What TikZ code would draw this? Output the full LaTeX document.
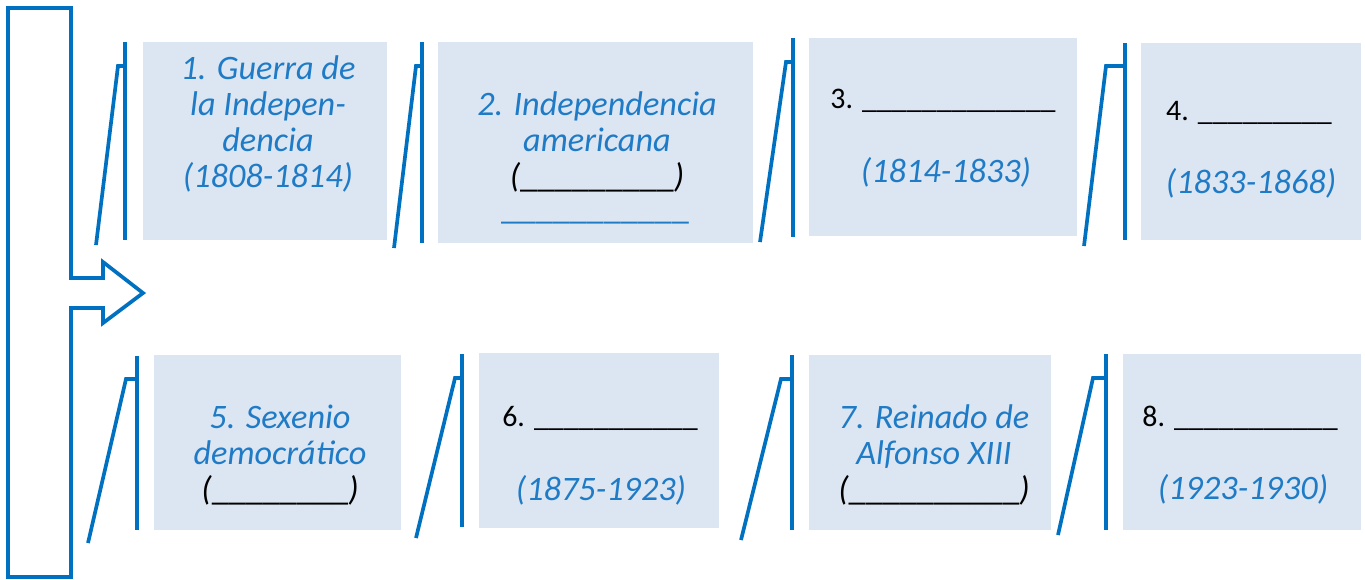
\documentclass[tikz,border=0pt]{standalone}
\usepackage{fontspec}
\setmainfont{Carlito}
\usetikzlibrary{positioning}
\definecolor{frameBlue}{HTML}{0070C0}
\definecolor{boxFill}{HTML}{DCE6F2}
\definecolor{textBlue}{HTML}{1F7BC6}
\newcommand{\gap}[1]{{\upshape\foreach \k in {1,...,#1}{\_}}}

\begin{document}
\begin{tikzpicture}[x=0.02cm,y=-0.02cm,
  period/.style={fill=boxFill,inner sep=0pt,anchor=north west},
  post/.style={frameBlue,line width=2.1pt},
  hand/.style={textBlue,font=\fontsize{19.5}{20.4}\selectfont\itshape,align=center,inner sep=0pt},
  blank/.style={black,font=\fontsize{17}{20.4}\selectfont,align=left,inner sep=0pt}
]
  \useasboundingbox (0,0) rectangle (1365,579);

  % --- big frame with arrow (left) ---
  \draw[post] (71,278) -- (71,8) -- (8,8) -- (8,577) -- (71,577) -- (71,308)
    -- (103,308) -- (103,323) -- (143,293) -- (103,262) -- (103,278) -- cycle;

  % --- top row: periods 1-4 ---
  \node[period,minimum width=4.88cm,minimum height=3.96cm] (p1) at (143,42) {};
  \node[period,minimum width=6.30cm,minimum height=4.02cm] (p2) at (438,42) {};
  \node[period,minimum width=5.36cm,minimum height=3.96cm] (p3) at (809,38) {};
  \node[period,minimum width=4.40cm,minimum height=3.94cm] (p4) at (1141,43) {};

  \draw[post] (125,42) -- (125,240);
  \draw[post] (96,245) -- (118,66) -- (125,66);
  \draw[post] (422,42) -- (422,243);
  \draw[post] (394,248) -- (416,66) -- (422,66);
  \draw[post] (793,38) -- (793,237);
  \draw[post] (760,242) -- (786,62) -- (793,62);
  \draw[post] (1125,43) -- (1125,240);
  \draw[post] (1084,246) -- (1106,66) -- (1125,66);

  \node[hand] (t1) at (268,124) {1. Guerra de\\la Indepen-\\dencia\\(1808-1814)};
  \node[hand] (t2) at (597,142) {2. Independencia\\americana\\\textcolor{black}{(\gap{9})}};
  \node[hand] (u2) at (595,222) {\gap{11}};
  \node[blank] (t3) at (943,101) {3. \gap{13}};
  \node[hand] (d3) at (946,172) {(1814-1833)};
  \node[blank] (t4) at (1249,113) {4. \gap{9}};
  \node[hand] (d4) at (1251,183) {(1833-1868)};

  % --- bottom row: periods 5-8 ---
  \node[period,minimum width=4.94cm,minimum height=3.50cm] (p5) at (154,355) {};
  \node[period,minimum width=4.80cm,minimum height=3.50cm] (p6) at (479,353) {};
  \node[period,minimum width=4.84cm,minimum height=3.50cm] (p7) at (809,355) {};
  \node[period,minimum width=4.76cm,minimum height=3.52cm] (p8) at (1123,354) {};

  \draw[post] (137,356) -- (137,530);
  \draw[post] (88,543) -- (126,379) -- (137,379);
  \draw[post] (462,354) -- (462,527);
  \draw[post] (416,538) -- (455,378) -- (462,378);
  \draw[post] (792,355) -- (792,530);
  \draw[post] (741,540) -- (781,379) -- (792,379);
  \draw[post] (1106,354) -- (1106,530);
  \draw[post] (1058,535) -- (1093,378) -- (1106,378);

  \node[hand] (t5) at (280,455) {5. Sexenio\\democrático\\\textcolor{black}{(\gap{8})}};
  \node[blank] (t6) at (600,418) {6. \gap{11}};
  \node[hand] (d6) at (601,490) {(1875-1923)};
  \node[hand] (t7) at (934,455) {7. Reinado de\\Alfonso XIII\\\textcolor{black}{(\gap{10})}};
  \node[blank] (t8) at (1240,418) {8. \gap{11}};
  \node[hand] (d8) at (1243,489) {(1923-1930)};
\end{tikzpicture}
\end{document}
